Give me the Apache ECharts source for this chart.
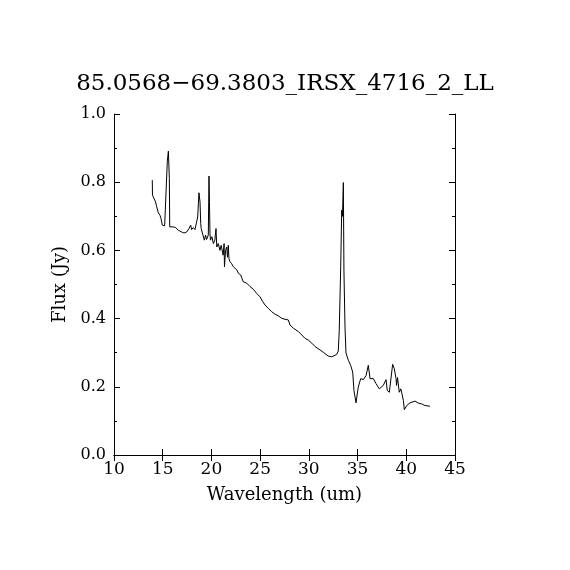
<!DOCTYPE html>
<html>
<head>
<meta charset="utf-8">
<script src="https://cdn.jsdelivr.net/npm/echarts@6/dist/echarts.min.js"></script>
<style>
  html, body { margin: 0; padding: 0; background: #fff; }
  #main { width: 570px; height: 570px; }
</style>
</head>
<body>
<div id="main"></div>
<script>
var titleText = '85.0568\u221269.3803_IRSX_4716_2_LL'
var xTicks = [10, 15, 20, 25, 30, 35, 40, 45]
var yTicks = [0.0, 0.2, 0.4, 0.6, 0.8, 1.0]

// wavelength (um)
var wave = [
  13.93, 13.95, 14.05, 14.27, 14.38, 14.55, 14.72, 14.82, 14.96, 15.2,
  15.4, 15.47, 15.58, 15.68, 15.72, 15.9, 16.08, 16.33, 16.6, 16.95,
  17.18, 17.46, 17.7, 17.87, 17.97, 18.14, 18.31, 18.48, 18.59, 18.72,
  18.83, 18.9, 18.95, 19.1, 19.27, 19.4, 19.5, 19.68, 19.75, 19.8,
  19.85, 19.9, 20.05, 20.2, 20.35, 20.47, 20.55, 20.7, 20.88, 21.0,
  21.2, 21.3, 21.34, 21.45, 21.57, 21.65, 21.73, 21.8, 21.9, 22.08,
  22.25, 22.42, 22.6, 22.77, 23.0, 23.27, 23.62, 23.96, 24.3, 24.64,
  24.98, 25.26, 25.5, 25.84, 26.19, 26.53, 26.87, 27.21, 27.55, 27.89,
  28.07, 28.41, 28.92, 29.27, 29.61, 29.95, 30.3, 30.64, 31.15, 31.49,
  32.0, 32.35, 32.45, 32.86, 33.02, 33.12, 33.27, 33.37, 33.45, 33.54,
  33.6, 33.71, 33.81, 34.05, 34.29, 34.5, 34.63, 34.84, 35.07, 35.32,
  35.59, 35.87, 36.1, 36.28, 36.62, 36.9, 37.23, 37.4, 37.64, 37.92,
  38.05, 38.26, 38.6, 38.77, 38.95, 39.0, 39.1, 39.28, 39.44, 39.55,
  39.7, 39.8, 40.05, 40.38, 40.9, 41.24, 41.57, 41.92, 42.43
]
// flux (Jy)
var flux = [
  0.806, 0.762, 0.757, 0.742, 0.728, 0.710, 0.703, 0.694, 0.674, 0.672,
  0.672, 0.860, 0.891, 0.811, 0.669, 0.664, 0.669, 0.667, 0.659, 0.654,
  0.651, 0.654, 0.664, 0.674, 0.661, 0.667, 0.661, 0.664, 0.698, 0.769,
  0.742, 0.679, 0.664, 0.660, 0.630, 0.645, 0.632, 0.645, 0.818, 0.740,
  0.650, 0.630, 0.640, 0.620, 0.630, 0.664, 0.610, 0.620, 0.600, 0.615,
  0.586, 0.620, 0.552, 0.600, 0.610, 0.580, 0.615, 0.576, 0.567, 0.561,
  0.552, 0.548, 0.543, 0.533, 0.528, 0.508, 0.504, 0.494, 0.486, 0.474,
  0.464, 0.450, 0.440, 0.430, 0.420, 0.413, 0.408, 0.401, 0.398, 0.396,
  0.381, 0.372, 0.362, 0.352, 0.342, 0.337, 0.328, 0.318, 0.308, 0.301,
  0.290, 0.288, 0.285, 0.295, 0.305, 0.366, 0.552, 0.718, 0.700, 0.799,
  0.542, 0.375, 0.299, 0.278, 0.263, 0.243, 0.189, 0.153, 0.199, 0.224,
  0.221, 0.233, 0.263, 0.224, 0.224, 0.209, 0.194, 0.189, 0.204, 0.221,
  0.189, 0.184, 0.266, 0.253, 0.224, 0.204, 0.227, 0.184, 0.194, 0.180,
  0.160, 0.133, 0.145, 0.153, 0.158, 0.152, 0.150, 0.145, 0.143
]

var points = wave.map(function (w, i) { return [w, flux[i]] })

var font = 'DejaVu Serif'
var myChart = echarts.init(document.getElementById('main'))

var xBase = {
  type: 'value',
  min: xTicks[0],
  max: xTicks[xTicks.length - 1],
  interval: 5,
  axisLine: { show: true, lineStyle: { color: '#000', width: 1 } },
  axisTick: { show: true, inside: true, length: 6, lineStyle: { color: '#000' } },
  splitLine: { show: false }
}
var yBase = {
  type: 'value',
  min: yTicks[0],
  max: yTicks[yTicks.length - 1],
  interval: 0.2,
  axisLine: { show: true, lineStyle: { color: '#000', width: 1 } },
  axisTick: { show: true, inside: true, length: 6, lineStyle: { color: '#000' } },
  minorTick: { show: true, splitNumber: 2, length: 3, lineStyle: { color: '#000' } },
  splitLine: { show: false }
}

var option = {
  animation: false,
  backgroundColor: '#fff',
  title: {
    text: titleText,
    left: 'center',
    top: 68,
    textStyle: { fontFamily: font, fontSize: 23, fontWeight: 'normal', color: '#000' }
  },
  grid: { left: 114, top: 114, right: 115, bottom: 115 },
  xAxis: [
    Object.assign({}, xBase, {
      position: 'bottom',
      name: 'Wavelength (um)',
      nameLocation: 'middle',
      nameGap: 31,
      nameTextStyle: { fontFamily: font, fontSize: 18, color: '#000' },
      axisLabel: { show: true, margin: 6, fontFamily: font, fontSize: 17, color: '#000' }
    }),
    Object.assign({}, xBase, {
      position: 'top',
      axisLabel: { show: false }
    })
  ],
  yAxis: [
    Object.assign({}, yBase, {
      position: 'left',
      name: 'Flux (Jy)',
      nameLocation: 'middle',
      nameGap: 44,
      nameTextStyle: { fontFamily: font, fontSize: 18, color: '#000' },
      axisLabel: {
        show: true, margin: 8, fontFamily: font, fontSize: 16, color: '#000',
        formatter: function (v) { return v.toFixed(1) }
      }
    }),
    Object.assign({}, yBase, {
      position: 'right',
      axisLabel: { show: false }
    })
  ],
  series: [{
    type: 'line',
    data: points,
    showSymbol: false,
    lineStyle: { color: '#000', width: 1 },
    xAxisIndex: 0,
    yAxisIndex: 0
  }]
}
myChart.setOption(option)
</script>
</body>
</html>
